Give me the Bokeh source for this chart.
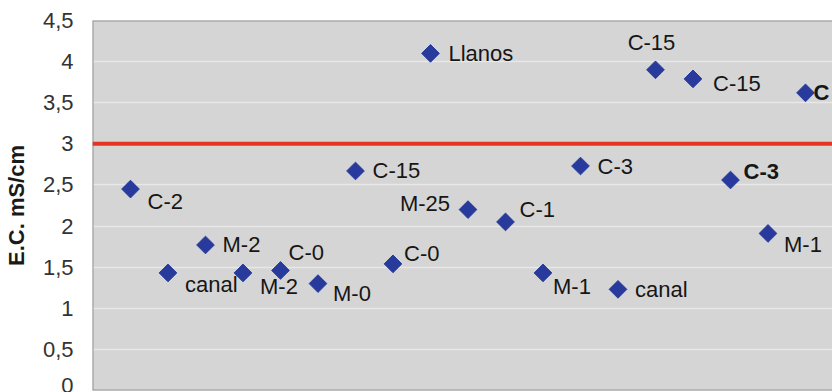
import math
from bokeh.plotting import figure
from bokeh.models import ColumnDataSource, Range1d, FixedTicker, Span
from bokeh.core.properties import value
from bokeh.embed import file_html
from bokeh.resources import INLINE

# ---- data ----
sample_index = list(range(1, 20))
sample_labels = ["C-2", "canal", "M-2", "M-2", "C-0", "M-0", "C-15", "C-0", "Llanos",
                 "M-25", "C-1", "M-1", "C-3", "canal", "C-15", "C-15", "C-3", "M-1", "C"]
ec_values = [2.45, 1.43, 1.77, 1.43, 1.46, 1.30, 2.67, 1.54, 4.10,
             2.20, 2.05, 1.43, 2.73, 1.23, 3.90, 3.79, 2.56, 1.91, 3.62]
limit_value = 3.0
y_ticks = [0, 0.5, 1, 1.5, 2, 2.5, 3, 3.5, 4, 4.5]
y_tick_labels = ["0", "0,5", "1", "1,5", "2", "2,5", "3", "3,5", "4", "4,5"]

# ---- label placement (screen px) ----
lab_dx = [17, 17, 17, 17, 8, 15, 17, 11, 18, -18, 14, 10, 17, 17, -4, 20, 13, 16, 8]
lab_dy = [12, 12, 0, 14, -18, 10, 0, -10, 0, -6, -12, 14, 0, 0, -27, 5, -9, 11, 0]
lab_align = ["left"] * 9 + ["right"] + ["left"] * 4 + ["center"] + ["left"] * 4
lab_style = ["normal"] * 16 + ["bold", "normal", "bold"]

src = ColumnDataSource(dict(x=sample_index, y=ec_values, label=sample_labels,
                            dx=lab_dx, dy=lab_dy, align=lab_align, style=lab_style))

x_start, x_end = -0.0133, 19.72
p = figure(width=832, height=392, output_backend="svg", toolbar_location=None,
           x_range=Range1d(x_start, x_end), y_range=Range1d(0, 4.5),
           min_border_left=92, min_border_top=20, min_border_bottom=2, min_border_right=0)

p.background_fill_color = "#d5d5d5"
p.border_fill_color = "white"
p.outline_line_color = None
p.xaxis.visible = False
p.xgrid.grid_line_color = None
p.ygrid.grid_line_color = "#e8e8e8"
p.ygrid.grid_line_width = 1.5

ya = p.yaxis[0]
ya.ticker = FixedTicker(ticks=y_ticks)
ya.major_label_overrides = {t: s for t, s in zip(y_ticks, y_tick_labels)}
ya.axis_line_color = None
ya.major_tick_line_color = None
ya.minor_tick_line_color = None
ya.major_tick_out = 0
ya.major_tick_in = 0
ya.minor_tick_out = 0
ya.minor_tick_in = 0
ya.major_label_text_font = "Liberation Sans"
ya.major_label_text_font_size = "22px"
ya.major_label_text_color = "#333333"
ya.major_label_standoff = 19
ya.axis_label = "E.C. mS/cm"
ya.axis_label_text_font = "Liberation Sans"
ya.axis_label_text_font_size = "22px"
ya.axis_label_text_font_style = "bold"
ya.axis_label_text_color = "#1a1a1a"
ya.axis_label_standoff = 11

# frame borders (left, top, bottom)
for loc in [0, 4.5]:
    p.add_layout(Span(location=loc, dimension="width", line_color="#9a9494", line_width=2))
p.add_layout(Span(location=x_start, dimension="height", line_color="#9a9494", line_width=2))

# threshold line
p.add_layout(Span(location=limit_value, dimension="width", line_color="#e5341f", line_width=4))

p.scatter("x", "y", source=src, marker="square", angle=math.pi / 4, size=12.5,
          fill_color="#283b9c", line_color="#283b9c")

p.text("x", "y", text="label", source=src, x_offset="dx", y_offset="dy",
       text_align="align", text_baseline="middle", text_font=value("Liberation Sans"),
       text_font_size="22px", text_font_style="style", text_color="#161616")

open("out.html", "w").write(file_html(p, INLINE))
